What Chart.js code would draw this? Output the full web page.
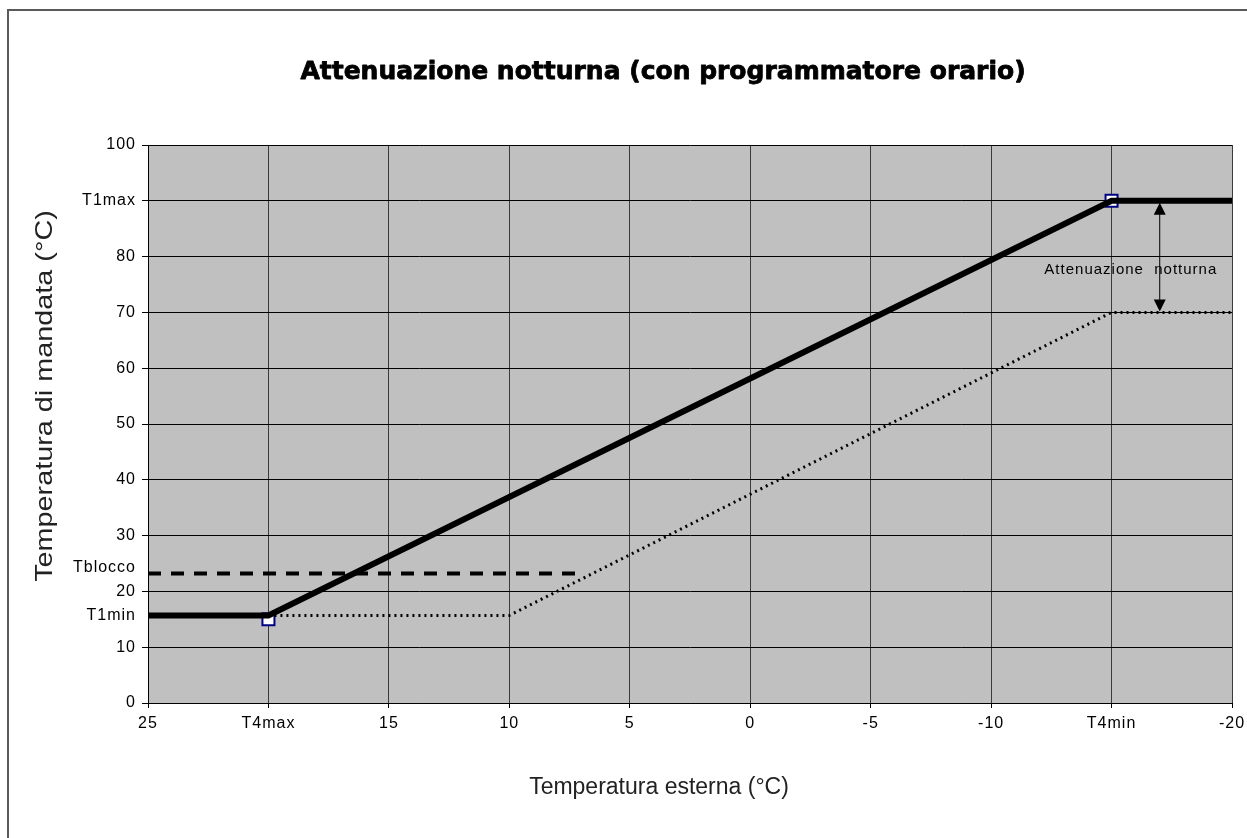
<!DOCTYPE html>
<html>
<head>
<meta charset="utf-8">
<script src="https://cdn.jsdelivr.net/npm/chart.js@4.4.1/dist/chart.umd.min.js"></script>
<style>
  html, body { margin: 0; padding: 0; background: #fff; }
</style>
</head>
<body>
<canvas id="myChart" width="1247" height="838"></canvas>
<script>
// axis ticks (x runs from warm to cold, so the axis is reversed)
const xTicks = [25, 20, 15, 10, 5, 0, -5, -10, -15, -20];
const xTickLabels = ['25', 'T4max', '15', '10', '5', '0', '-5', '-10', 'T4min', '-20'];
const yTicks = [0, 10, 15.7, 20, 24.2, 30, 40, 50, 60, 70, 80, 90, 100];
const yTickLabels = ['0', '10', 'T1min', '20', 'Tblocco', '30', '40', '50', '60', '70', '80', 'T1max', '100'];
const yLabelOnly = [15.7, 24.2];

// curva climatica diurna
const dayX = [25, 20, -15, -20];
const dayY = [15.7, 15.7, 90, 90];
// curva attenuata notturna
const nightX = [20, 10, -15, -20];
const nightY = [15.7, 15.7, 70, 70];
// temperatura di blocco
const bloccoX = [25, 7];
const bloccoY = [23.2, 23.2];
// punti di taratura
const pointX = [20, -15];
const pointY = [15, 90];
// freccia attenuazione
const attenX = -17;
const attenFrom = 90;
const attenTo = 70;
const attenText = 'Attenuazione  notturna';
const attenTextAt = [-15.8, 77.6];

const toXY = (xs, ys) => xs.map((x, i) => ({ x: x, y: ys[i] }));

const tickFont = { family: 'Liberation Sans, Arial, sans-serif', size: 16 };

const decor = {
  id: 'decor',
  beforeLayout(chart) {
    chart.ctx.letterSpacing = '1px';
  },
  beforeDraw(chart) {
    const { ctx, chartArea: a } = chart;
    ctx.save();
    ctx.fillStyle = '#ffffff';
    ctx.fillRect(0, 0, chart.width, chart.height);
    ctx.fillStyle = '#c0c0c0';
    ctx.fillRect(a.left, a.top, a.right - a.left, a.bottom - a.top);
    ctx.restore();
    ctx.letterSpacing = '1px';
  },
  afterDatasetsDraw(chart) {
    const { ctx } = chart;
    const xs = chart.scales.x, ys = chart.scales.y;
    const px = xs.getPixelForValue(attenX);
    const y1 = ys.getPixelForValue(attenFrom) + 2;
    const y2 = ys.getPixelForValue(attenTo) - 1;
    ctx.save();
    ctx.strokeStyle = '#000';
    ctx.fillStyle = '#000';
    ctx.lineWidth = 1;
    ctx.beginPath();
    ctx.moveTo(px, y1 + 10);
    ctx.lineTo(px, y2 - 10);
    ctx.stroke();
    ctx.beginPath();
    ctx.moveTo(px, y1);
    ctx.lineTo(px - 6, y1 + 12);
    ctx.lineTo(px + 6, y1 + 12);
    ctx.closePath();
    ctx.fill();
    ctx.beginPath();
    ctx.moveTo(px, y2);
    ctx.lineTo(px - 6, y2 - 12);
    ctx.lineTo(px + 6, y2 - 12);
    ctx.closePath();
    ctx.fill();

    ctx.letterSpacing = '1px';
    ctx.font = '15px "Liberation Sans", Arial, sans-serif';
    ctx.textAlign = 'center';
    ctx.textBaseline = 'middle';
    ctx.fillText(attenText, xs.getPixelForValue(attenTextAt[0]), ys.getPixelForValue(attenTextAt[1]));
    ctx.restore();
  },
  afterDraw(chart) {
    const { ctx } = chart;
    ctx.save();
    ctx.letterSpacing = '0px';
    // cornice
    ctx.fillStyle = '#5a5a5a';
    ctx.fillRect(7, 9, chart.width - 7, 2);
    ctx.fillRect(7, 9, 2, chart.height - 9);

    // titolo in nero pesante
    ctx.fillStyle = '#000';
    ctx.strokeStyle = '#000';
    ctx.lineWidth = 0.8;
    ctx.lineJoin = 'round';
    ctx.textAlign = 'center';
    ctx.textBaseline = 'middle';
    ctx.font = 'bold 25px "DejaVu Sans", sans-serif';
    ctx.fillText('Attenuazione notturna (con programmatore orario)', 663, 72);
    ctx.strokeText('Attenuazione notturna (con programmatore orario)', 663, 72);

    ctx.fillStyle = '#222';
    ctx.font = '23px "Liberation Sans", Arial, sans-serif';
    ctx.fillText('Temperatura esterna (°C)', 659, 788);

    ctx.translate(45, 396);
    ctx.rotate(-Math.PI / 2);
    ctx.scale(1.2, 1);
    ctx.font = '24px "Liberation Sans", Arial, sans-serif';
    ctx.fillText('Temperatura di mandata (°C)', 0, 0);
    ctx.restore();
  }
};

new Chart(document.getElementById('myChart'), {
  type: 'scatter',
  data: {
    datasets: [
      {
        label: 'Tblocco',
        data: toXY(bloccoX, bloccoY),
        showLine: true,
        borderColor: '#000',
        borderWidth: 4,
        borderDash: [13, 10],
        pointRadius: 0
      },
      {
        label: 'Notte',
        data: toXY(nightX, nightY),
        showLine: true,
        borderColor: '#000',
        borderWidth: 3,
        borderDash: [2, 4],
        pointRadius: 0
      },
      {
        label: 'Giorno',
        data: toXY(dayX, dayY),
        showLine: true,
        borderColor: '#000',
        borderWidth: 6,
        pointRadius: 0
      },
      {
        label: 'Punti',
        data: toXY(pointX, pointY),
        showLine: false,
        pointStyle: 'rect',
        pointRadius: 8.5,
        pointBorderWidth: 2,
        pointBorderColor: '#000080',
        pointBackgroundColor: '#ffffff'
      }
    ]
  },
  options: {
    responsive: false,
    animation: false,
    devicePixelRatio: 1,
    layout: { padding: { left: 0, top: 145, right: 15, bottom: 0 } },
    plugins: {
      legend: { display: false },
      tooltip: { enabled: false }
    },
    scales: {
      x: {
        type: 'linear',
        reverse: true,
        min: -20,
        max: 25,
        afterBuildTicks: scale => { scale.ticks = xTicks.map(v => ({ value: v })); },
        afterFit: scale => {
          scale.height = 135;
          scale.paddingLeft = 0;
          scale.paddingRight = 0;
        },
        ticks: {
          autoSkip: false,
          maxRotation: 0,
          color: '#000',
          font: tickFont,
          padding: 6,
          callback: v => xTickLabels[xTicks.indexOf(v)]
        },
        grid: { color: '#3a3a3a', tickColor: '#000', tickLength: 5, lineWidth: 1 },
        border: { color: '#000', width: 1 }
      },
      y: {
        type: 'linear',
        min: 0,
        max: 100,
        afterBuildTicks: scale => { scale.ticks = yTicks.map(v => ({ value: v })); },
        afterFit: scale => {
          scale.width = 148;
          scale.paddingTop = 0;
          scale.paddingBottom = 0;
        },
        ticks: {
          autoSkip: false,
          color: '#000',
          font: tickFont,
          padding: 6,
          callback: v => yTickLabels[yTicks.indexOf(v)]
        },
        grid: {
          color: c => (c.tick && yLabelOnly.includes(c.tick.value)) ? 'rgba(0,0,0,0)' : '#000',
          tickColor: c => (c.tick && yLabelOnly.includes(c.tick.value)) ? 'rgba(0,0,0,0)' : '#000',
          tickLength: 6,
          lineWidth: 1
        },
        border: { color: '#000', width: 1 }
      }
    }
  },
  plugins: [decor]
});
</script>
</body>
</html>
